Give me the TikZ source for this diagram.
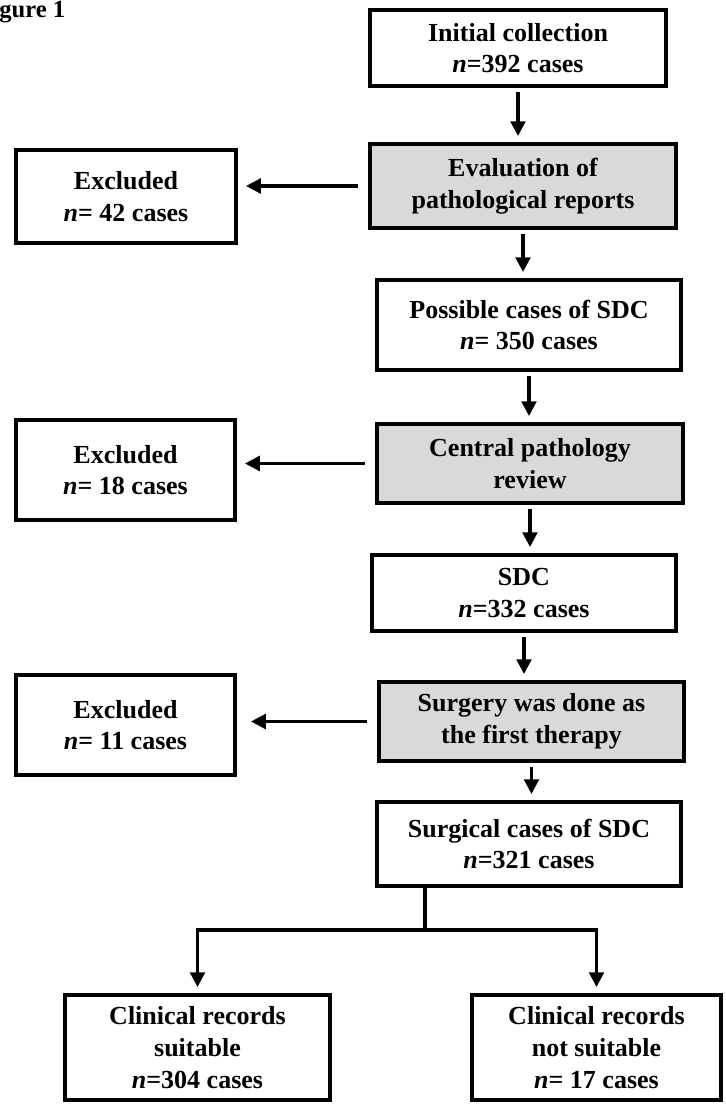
\documentclass[tikz,border=0pt]{standalone}
\usepackage{fontspec}
\setmainfont{Liberation Serif}
\usetikzlibrary{arrows.meta}

\begin{document}
\begin{tikzpicture}[
  x=0.025cm, y=-0.025cm,
  blk/.style={rectangle, draw=black, line width=2.8pt, fill=white,
              align=center, inner sep=2pt,
              font=\fontsize{18.5}{22.5}\selectfont\bfseries},
  gblk/.style={blk, fill=black!15},
  arr/.style={-{Triangle[length=10.5pt,width=10.5pt]}, line width=2.2pt,
              shorten <=0.1cm, shorten >=0.15cm},
  ln/.style={line width=2.2pt},
]
\useasboundingbox (0,0) rectangle (725,1104);

% Title (cut at the left edge)
\node[anchor=base west, inner sep=0pt, font=\fontsize{17.5}{20}\selectfont\bfseries]
  (TTL) at (-1,18) {gure 1};

% Main column
\node[blk,  minimum width=7.4cm,  minimum height=1.9cm]   (INIT) at (518,48)
  {Initial collection\\\textit{n}=392 cases};
\node[gblk, minimum width=7.65cm, minimum height=2.1cm]   (EVAL) at (523,186)
  {Evaluation of\\pathological reports};
\node[blk,  minimum width=7.6cm,  minimum height=2.25cm]  (POSS) at (529,325)
  {Possible cases of SDC\\\textit{n}= 350 cases};
\node[gblk, minimum width=7.65cm, minimum height=1.975cm] (CPR)  at (530,463.5)
  {Central pathology\\review};
\node[blk,  minimum width=7.6cm,  minimum height=1.9cm]   (SDC)  at (524,593)
  {SDC\\\textit{n}=332 cases};
\node[gblk, minimum width=7.625cm,minimum height=1.975cm] (SURG) at (531.5,721.5)
  {Surgery was done as\\the first therapy};
\node[blk,  minimum width=7.6cm,  minimum height=2.1cm]   (SCS)  at (529,844)
  {Surgical cases of SDC\\\textit{n}=321 cases};

% Excluded boxes
\node[blk, minimum width=5.5cm,   minimum height=2.325cm] (EX1) at (126,196.5)
  {Excluded\\\textit{n}= 42 cases};
\node[blk, minimum width=5.475cm, minimum height=2.5cm]   (EX2) at (125.5,470)
  {Excluded\\\textit{n}= 18 cases};
\node[blk, minimum width=5.475cm, minimum height=2.5cm]   (EX3) at (125.5,725)
  {Excluded\\\textit{n}= 11 cases};

% Final split
\node[blk, minimum width=6.625cm, minimum height=2.625cm] (SUIT)  at (197.5,1047.5)
  {Clinical records\\suitable\\\textit{n}=304 cases};
\node[blk, minimum width=6.225cm, minimum height=2.625cm] (NSUIT) at (596.5,1047.5)
  {Clinical records\\not suitable\\\textit{n}= 17 cases};

% Downward arrows
\draw[arr] (INIT.south) -- (INIT.south |- EVAL.north);
\draw[arr] (EVAL.south) -- (EVAL.south |- POSS.north);
\draw[arr] (POSS.south) -- (POSS.south |- CPR.north);
\draw[arr] (CPR.south)  -- (CPR.south |- SDC.north);
\draw[arr] (SDC.south)  -- (SDC.south |- SURG.north);
\draw[arr] (SURG.south) -- (SURG.south |- SCS.north);

% Exclusion arrows
\draw[arr, shorten <=0.25cm, shorten >=0.2cm] (EVAL.west) -- (EVAL.west -| EX1.east);
\draw[arr, shorten <=0.25cm, shorten >=0.2cm] (CPR.west)  -- (CPR.west -| EX2.east);
\draw[arr, shorten <=0.25cm, shorten >=0.35cm] (SURG.west) -- (SURG.west -| EX3.east);

% Branch
\coordinate (BR) at (425,930);
\draw[ln] (SCS.south -| BR) -- (BR);
\draw[arr, shorten <=0pt] (BR) -| (SUIT.north);
\draw[arr, shorten <=0pt] (BR) -| (NSUIT.north);

\end{tikzpicture}
\end{document}
